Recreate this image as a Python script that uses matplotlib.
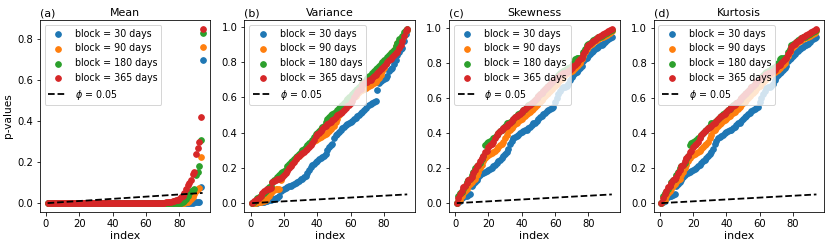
import numpy as np
import matplotlib
matplotlib.use("Agg")
import matplotlib.pyplot as plt

# sorted p-values, one list per block length
labels = ["block = 30 days", "block = 90 days", "block = 180 days", "block = 365 days"]
panels = ["(a)", "(b)", "(c)", "(d)"]
titles = ["Mean", "Variance", "Skewness", "Kurtosis"]
phi = 0.05

mean_30 = [0.0] * 84 + [0.001, 0.002, 0.002, 0.003, 0.004, 0.005, 0.006, 0.008, 0.078, 0.70]
mean_90 = [0.0] * 82 + [0.002, 0.004, 0.007, 0.012, 0.02, 0.03, 0.045, 0.06, 0.07, 0.075, 0.225, 0.76]
mean_180 = [0.0] * 80 + [0.003, 0.006, 0.01, 0.02, 0.035, 0.05, 0.06, 0.065, 0.07, 0.135,
                         0.15, 0.18, 0.31, 0.83]
mean_365 = [0.0] * 40 + [0.001] * 20 + [0.002] * 10 + [
    0.003, 0.004, 0.005, 0.006, 0.008, 0.01, 0.012, 0.015, 0.018, 0.022,
    0.028, 0.035, 0.05, 0.07, 0.09, 0.10, 0.115, 0.14, 0.15, 0.24, 0.27, 0.30, 0.42, 0.85]

var_30 = [0.000, 0.001, 0.002, 0.003, 0.004, 0.005, 0.006, 0.008, 0.010,
          0.014, 0.017, 0.020, 0.022, 0.025, 0.028, 0.032, 0.040,
          0.068, 0.075, 0.080, 0.085, 0.090,
          0.095, 0.100, 0.105, 0.110, 0.115, 0.120,
          0.128, 0.135, 0.140, 0.148, 0.155, 0.170,
          0.190, 0.205, 0.215, 0.225, 0.235, 0.240, 0.248, 0.255,
          0.262, 0.270, 0.280, 0.300, 0.320, 0.330, 0.335,
          0.370, 0.385, 0.395, 0.405, 0.415,
          0.425, 0.435, 0.445, 0.450, 0.455, 0.460, 0.465,
          0.475, 0.485, 0.495, 0.500, 0.510,
          0.520, 0.530, 0.540, 0.550, 0.560, 0.565, 0.570, 0.575, 0.580,
          0.645, 0.680, 0.695, 0.700,
          0.705, 0.710, 0.720, 0.750, 0.760,
          0.770, 0.790, 0.810, 0.840, 0.860, 0.875,
          0.880, 0.920, 0.960, 0.985]
var_90 = [0.0, 0.0, 0.002, 0.004, 0.006, 0.008, 0.01, 0.015, 0.02, 0.03, 0.04, 0.06,
          0.07, 0.075, 0.078, 0.08, 0.08,
          0.13, 0.15, 0.17, 0.18, 0.20, 0.21, 0.22, 0.23, 0.24, 0.25,
          0.26, 0.27, 0.28, 0.29, 0.30, 0.31, 0.32, 0.33, 0.34, 0.35, 0.355, 0.36, 0.365,
          0.37, 0.375, 0.38, 0.385, 0.39, 0.40, 0.41, 0.42, 0.43, 0.44,
          0.46, 0.48, 0.50, 0.52, 0.53, 0.54, 0.55, 0.56, 0.57, 0.58,
          0.59, 0.60, 0.61, 0.62, 0.63, 0.64, 0.645, 0.65, 0.655, 0.66,
          0.665, 0.67, 0.675, 0.68, 0.69, 0.70, 0.71, 0.73, 0.75, 0.77,
          0.79, 0.81, 0.83, 0.85, 0.86, 0.87, 0.89, 0.91, 0.92, 0.93,
          0.94, 0.96, 0.975, 0.985]
var_180 = [0.0, 0.005, 0.02, 0.03, 0.035, 0.04, 0.05, 0.06, 0.07, 0.08,
           0.09, 0.10, 0.12, 0.13, 0.14, 0.15, 0.16, 0.17, 0.175, 0.18,
           0.19, 0.21, 0.225, 0.235, 0.24, 0.25, 0.26, 0.27, 0.28, 0.29,
           0.30, 0.31, 0.32, 0.33, 0.34, 0.35, 0.36, 0.375, 0.39, 0.40,
           0.41, 0.42, 0.43, 0.44, 0.46, 0.48, 0.49, 0.50, 0.505, 0.51,
           0.52, 0.53, 0.54, 0.55, 0.56, 0.57, 0.58, 0.59, 0.60, 0.61,
           0.62, 0.63, 0.64, 0.65, 0.66, 0.67, 0.68, 0.69, 0.70, 0.71,
           0.72, 0.73, 0.74, 0.75, 0.76, 0.77, 0.78, 0.79, 0.80, 0.81,
           0.82, 0.83, 0.84, 0.85, 0.86, 0.87, 0.89, 0.91, 0.93, 0.94,
           0.95, 0.97, 0.98, 0.99]
var_365 = [0.0, 0.01, 0.02, 0.025, 0.03, 0.04, 0.06, 0.07, 0.075, 0.08,
           0.08, 0.085, 0.12, 0.125, 0.13, 0.135, 0.14, 0.145, 0.15, 0.16,
           0.17, 0.18, 0.20, 0.21, 0.22, 0.235, 0.25, 0.26, 0.27, 0.28,
           0.285, 0.29, 0.30, 0.31, 0.32, 0.33, 0.34, 0.36, 0.38, 0.39,
           0.40, 0.41, 0.42, 0.43, 0.44, 0.45, 0.455, 0.46, 0.47, 0.48,
           0.49, 0.50, 0.505, 0.51, 0.52, 0.53, 0.54, 0.55, 0.56, 0.57,
           0.58, 0.60, 0.62, 0.63, 0.64, 0.65, 0.67, 0.68, 0.69, 0.70,
           0.69, 0.70, 0.71, 0.72, 0.73, 0.74, 0.75, 0.76, 0.77, 0.78,
           0.79, 0.80, 0.81, 0.82, 0.83, 0.84, 0.85, 0.86, 0.88, 0.90,
           0.92, 0.95, 0.975, 0.99]

skew_30 = [0.002, 0.005, 0.01, 0.03, 0.035, 0.04, 0.042, 0.045, 0.05,
           0.10, 0.11, 0.12, 0.13, 0.15, 0.16, 0.17, 0.175, 0.18,
           0.185, 0.19, 0.195, 0.20, 0.21, 0.22, 0.23, 0.24, 0.245,
           0.255, 0.27, 0.28, 0.29, 0.31, 0.34, 0.355, 0.37, 0.38,
           0.385, 0.39, 0.40, 0.405, 0.41, 0.415, 0.42, 0.43, 0.435,
           0.445, 0.455, 0.46, 0.47, 0.48, 0.49, 0.50, 0.51, 0.515,
           0.525, 0.53, 0.54, 0.545, 0.55, 0.58, 0.60, 0.62, 0.64,
           0.655, 0.66, 0.665, 0.67, 0.68, 0.70, 0.72, 0.73, 0.74,
           0.75, 0.76, 0.77, 0.78, 0.81, 0.82, 0.83, 0.84, 0.85,
           0.86, 0.87, 0.88, 0.885, 0.89, 0.90, 0.905, 0.91, 0.92,
           0.93, 0.935, 0.94, 0.95]
skew_90 = [0.0, 0.01, 0.02, 0.04, 0.06, 0.07, 0.08, 0.10, 0.11,
           0.12, 0.13, 0.14, 0.16, 0.18, 0.20, 0.22, 0.24, 0.26,
           0.27, 0.275, 0.28, 0.285, 0.29, 0.30, 0.31, 0.32, 0.33,
           0.34, 0.35, 0.37, 0.39, 0.41, 0.42, 0.43, 0.44, 0.45,
           0.46, 0.47, 0.475, 0.48, 0.49, 0.50, 0.51, 0.515, 0.52,
           0.53, 0.54, 0.55, 0.56, 0.57, 0.58, 0.59, 0.60, 0.61,
           0.62, 0.63, 0.64, 0.65, 0.66, 0.67, 0.68, 0.69, 0.70,
           0.71, 0.72, 0.73, 0.74, 0.745, 0.75, 0.755, 0.76, 0.77,
           0.78, 0.79, 0.80, 0.82, 0.84, 0.86, 0.88, 0.89, 0.90,
           0.91, 0.92, 0.925, 0.93, 0.935, 0.94, 0.945, 0.95, 0.955,
           0.96, 0.965, 0.97, 0.98]
skew_180 = [0.0, 0.04, 0.06, 0.065, 0.08, 0.10, 0.12, 0.13, 0.14,
            0.16, 0.18, 0.20, 0.21, 0.22, 0.23, 0.25, 0.27, 0.33,
            0.345, 0.35, 0.355, 0.36, 0.37, 0.38, 0.39, 0.40, 0.41,
            0.42, 0.43, 0.44, 0.455, 0.46, 0.465, 0.47, 0.48, 0.49,
            0.50, 0.51, 0.515, 0.52, 0.53, 0.54, 0.55, 0.56, 0.565,
            0.57, 0.58, 0.59, 0.60, 0.61, 0.62, 0.63, 0.64, 0.65,
            0.66, 0.67, 0.68, 0.69, 0.70, 0.71, 0.72, 0.73, 0.74,
            0.75, 0.755, 0.76, 0.765, 0.77, 0.775, 0.78, 0.80, 0.825,
            0.83, 0.83, 0.83, 0.835, 0.86, 0.88, 0.90, 0.91, 0.915,
            0.92, 0.93, 0.935, 0.94, 0.945, 0.95, 0.955, 0.96, 0.965,
            0.97, 0.975, 0.98, 0.99]
skew_365 = [0.0, 0.03, 0.05, 0.07, 0.09, 0.10, 0.115, 0.13, 0.14,
            0.15, 0.17, 0.19, 0.21, 0.22, 0.24, 0.26, 0.27, 0.29,
            0.30, 0.32, 0.33, 0.34, 0.35, 0.37, 0.39, 0.40, 0.41,
            0.42, 0.43, 0.435, 0.44, 0.45, 0.46, 0.47, 0.48, 0.49,
            0.50, 0.505, 0.51, 0.52, 0.53, 0.54, 0.55, 0.555, 0.56,
            0.57, 0.58, 0.59, 0.60, 0.61, 0.62, 0.63, 0.64, 0.65,
            0.66, 0.67, 0.68, 0.69, 0.70, 0.71, 0.715, 0.72, 0.73,
            0.735, 0.74, 0.745, 0.75, 0.755, 0.76, 0.77, 0.78, 0.79,
            0.80, 0.81, 0.82, 0.83, 0.85, 0.87, 0.89, 0.90, 0.91,
            0.92, 0.925, 0.93, 0.94, 0.95, 0.955, 0.96, 0.965, 0.97,
            0.975, 0.98, 0.985, 0.995]

# kurtosis results look the same as skewness in the figure
kurt_30, kurt_90, kurt_180, kurt_365 = skew_30, skew_90, skew_180, skew_365

data = [
    [mean_30, mean_90, mean_180, mean_365],
    [var_30, var_90, var_180, var_365],
    [skew_30, skew_90, skew_180, skew_365],
    [kurt_30, kurt_90, kurt_180, kurt_365],
]

# at 72 dpi one point is one pixel
fig, axes = plt.subplots(1, 4, figsize=(830 / 72, 247 / 72), dpi=72)
fig.subplots_adjust(left=0.048, right=0.993, bottom=0.142, top=0.919, wspace=0.2)

for k, ax in enumerate(axes):
    for vals, lab in zip(data[k], labels):
        vals = np.sort(np.array(vals))
        idx = np.arange(1, len(vals) + 1)
        ax.scatter(idx, vals, s=32, label=lab)
    m = len(data[k][0])
    idx = np.arange(1, m + 1)
    ax.plot(idx, phi * idx / m, 'k--', lw=1.8, label=r'$\phi$ = ' + str(phi))
    ax.set_title(titles[k], fontsize=11, pad=4)
    ax.set_title(panels[k], loc='left', fontsize=11, pad=4)
    ax.set_xlabel('index', fontsize=11, labelpad=2)
    ax.set_xticks([0, 20, 40, 60, 80])
    ax.tick_params(labelsize=10)
    ax.legend(loc='upper left', scatterpoints=1, fontsize=9.5)

axes[0].set_ylabel('p-values', fontsize=10.5)

plt.savefig('out.png', dpi=72)
